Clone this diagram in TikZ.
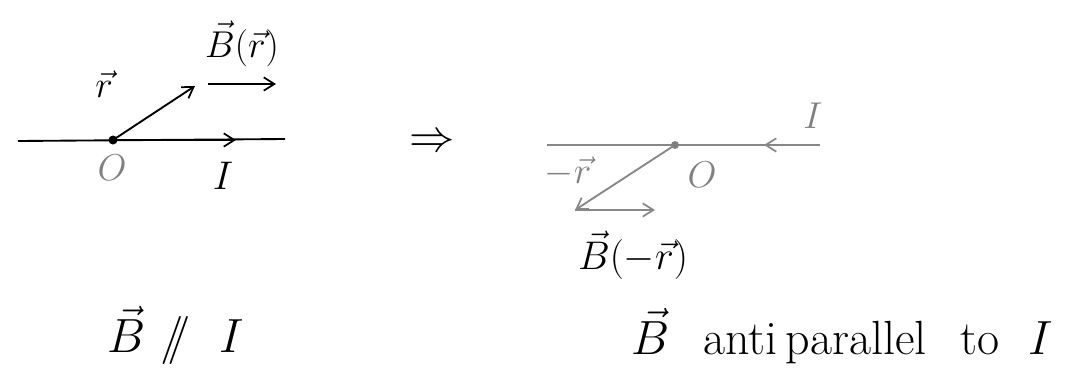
\RequirePackage{fix-cm}
\documentclass[tikz,border=0pt]{standalone}
\usepackage{amsmath}
\usetikzlibrary{arrows.meta}
\tikzset{every picture/.style={line width=0.75pt}}
\begin{document}
\begin{tikzpicture}[x=0.75pt,y=0.75pt,yscale=-1,xscale=1,
  handtip/.style={-{Straight Barb[length=8pt,width=10pt,line width=1.3pt]}},
  wire/.style={line width=1.4pt},
  greywire/.style={line width=1.4pt,color={rgb, 255:red, 135; green, 135; blue, 135 }},
  smalllbl/.style={inner sep=0.75pt,font=\fontsize{28}{32}\selectfont},
  biglbl/.style={inner sep=0.75pt,font=\fontsize{30}{36}\selectfont},
  caplbl/.style={inner sep=0.75pt,font=\fontsize{36}{42}\selectfont}]
\useasboundingbox (0,0) rectangle (1088,368);

%Left picture: current I, position r, field B(r)
\coordinate (wireLa) at (18,141);
\coordinate (wireLb) at (285,139);
\coordinate (O1) at (113,140);
\coordinate (Itip1) at (236,140);
\coordinate (rtip) at (195,86);
\coordinate (Btail1) at (208,84);
\coordinate (Btip1) at (276,84);
%Straight Lines
\draw [wire] (wireLa) -- (wireLb) ;
\draw [wire,handtip] (O1) -- (Itip1) ;
\draw [wire,handtip] (O1) -- (rtip) ;
\draw [wire,handtip] (Btail1) -- (Btip1) ;
\fill (O1) circle (4.5) ;

% Text Node
\node [smalllbl] (Brlbl) at (242,44) {$\vec{B}(\vec{r})$};
\node [smalllbl] (rlbl) at (104,84) {$\vec{r}$};
\node [smalllbl,gray] (O1lbl) at (112,168) {$O$};
\node [biglbl] (I1lbl) at (223,176) {$I$};

% Implies
\node [caplbl,font=\fontsize{34}{40}\selectfont] (impl) at (432,143) {$\Rightarrow$};

%Right picture: the same after inversion
\coordinate (wireRa) at (547,145);
\coordinate (wireRb) at (820,145);
\coordinate (O2) at (675,145);
\coordinate (Itip2) at (764,145);
\coordinate (mrtip) at (575,210);
\coordinate (Btip2) at (655,210);
%Straight Lines
\draw [greywire] (wireRa) -- (wireRb) ;
\draw [greywire,handtip] (wireRb) -- (Itip2) ;
\draw [greywire,handtip] (O2) -- (mrtip) ;
\draw [greywire,handtip] (mrtip) -- (Btip2) ;
\fill [gray] (O2) circle (4) ;

% Text Node
\node [smalllbl,gray] (mrlbl) at (568,172) {$-\vec{r}$};
\node [smalllbl,gray] (O2lbl) at (702,175) {$O$};
\node [smalllbl,gray] (I2lbl) at (813,116) {$I$};
\node [biglbl] (Bmrlbl) at (633,255) {$\vec{B}(-\vec{r})$};

% Captions
\node [caplbl] (cap1) at (176,335) {$\vec{B}\ /\!\!/\ \ I$};
\node [caplbl] (cap2) at (842,336) {$\vec{B}$\hspace{0.7em}anti\,parallel\hspace{0.7em}to\hspace{0.6em}$I$};

\end{tikzpicture}
\end{document}
